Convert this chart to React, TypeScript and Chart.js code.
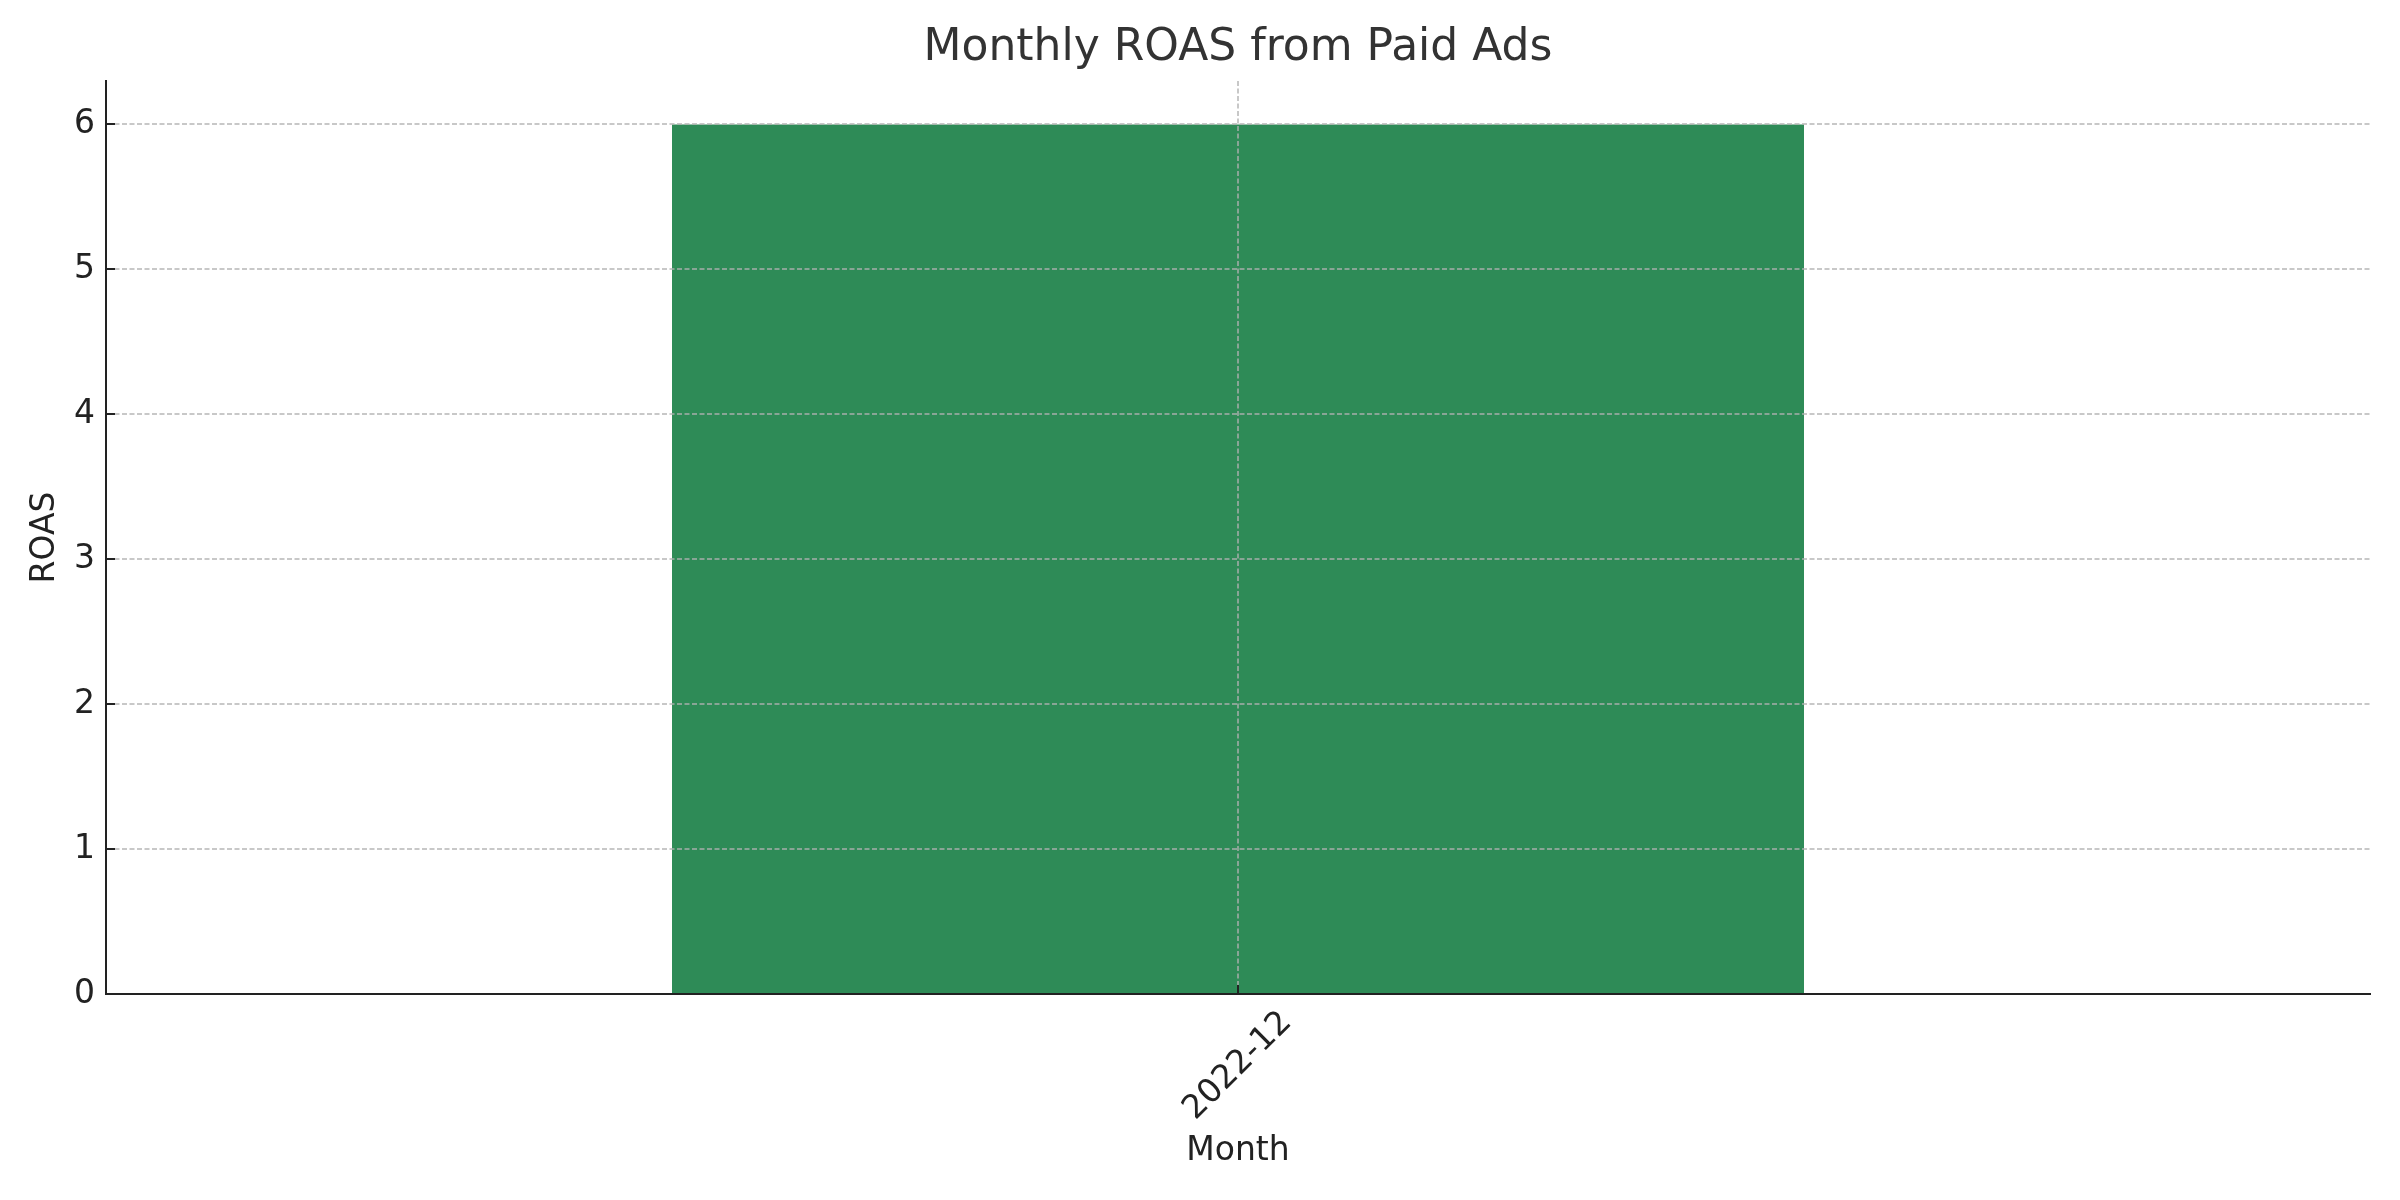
import React, { useEffect, useRef } from "react";
import { Chart, registerables } from "chart.js";

Chart.register(...registerables);

const categories: string[] = ["2022-12"];
const roasValues: number[] = [6.0];
const yTickValues: number[] = [0, 1, 2, 3, 4, 5, 6];
const chartTitle = "Monthly ROAS from Paid Ads";

const FONT = "'DejaVu Sans', 'Liberation Sans', sans-serif";

const innerTicksAndLabels = {
  id: "innerTicksAndLabels",
  afterDraw(chart: any) {
    const { ctx, chartArea } = chart;
    const xs = chart.scales.x;
    const ys = chart.scales.y;
    ctx.save();
    // title centered over the plot area
    ctx.font = `44px ${FONT}`;
    ctx.fillStyle = "#333333";
    ctx.textAlign = "center";
    ctx.textBaseline = "middle";
    ctx.fillText(chartTitle, (chartArea.left + chartArea.right) / 2, 49);

    ctx.strokeStyle = "#222222";
    ctx.lineWidth = 2;
    ctx.setLineDash([]);
    // inward y ticks
    ys.ticks.forEach((_t: any, i: number) => {
      const y = Math.round(ys.getPixelForTick(i));
      ctx.beginPath();
      ctx.moveTo(chartArea.left, y);
      ctx.lineTo(chartArea.left + 9, y);
      ctx.stroke();
    });
    // inward x ticks + rotated centered labels
    xs.ticks.forEach((_t: any, i: number) => {
      const x = Math.round(xs.getPixelForTick(i));
      ctx.beginPath();
      ctx.moveTo(x, chartArea.bottom);
      ctx.lineTo(x, chartArea.bottom - 9);
      ctx.stroke();
      ctx.save();
      ctx.translate(x, chartArea.bottom + 72);
      ctx.rotate(-Math.PI / 4);
      ctx.font = `33px ${FONT}`;
      ctx.fillStyle = "#222222";
      ctx.textAlign = "center";
      ctx.textBaseline = "middle";
      ctx.fillText(String(xs.getLabelForValue(xs.ticks[i].value)), 0, 0);
      ctx.restore();
    });
    ctx.restore();
  },
};

export default function App() {
  const canvasRef = useRef<HTMLCanvasElement | null>(null);

  useEffect(() => {
    if (!canvasRef.current) return;
    const grid = {
      color: "rgba(176,176,176,0.7)",
      lineWidth: 2,
      drawTicks: false,
      z: 1,
    };
    const border = { display: true, color: "#222222", width: 2, dash: [5, 2.5], z: 2 };
    const chart = new Chart(canvasRef.current, {
      type: "bar",
      data: {
        labels: categories,
        datasets: [
          {
            label: "ROAS",
            data: roasValues,
            backgroundColor: "#2E8B57",
            borderWidth: 0,
            barPercentage: 0.5,
            categoryPercentage: 1.0,
          },
        ],
      },
      options: {
        responsive: false,
        animation: false,
        devicePixelRatio: 1,
        layout: { padding: { left: 0, right: 30, top: 81, bottom: 0 } },
        plugins: {
          legend: { display: false },
          tooltip: { enabled: false },
          title: { display: false },
        },
        scales: {
          x: {
            type: "category",
            offset: true,
            grid: { ...grid, offset: false },
            border: { ...border },
            ticks: { display: false },
            title: {
              display: true,
              text: "Month",
              color: "#222222",
              font: { family: FONT, size: 33, lineHeight: 1.2 },
              padding: { top: 0, bottom: 29 },
            },
            afterFit: (s: any) => {
              s.height = 206;
            },
          },
          y: {
            type: "linear",
            min: 0,
            max: 6.3,
            grid: { ...grid },
            border: { ...border },
            ticks: {
              stepSize: 1,
              includeBounds: false,
              padding: 11,
              color: "#222222",
              font: { family: FONT, size: 33 },
              callback: (v: any) => (yTickValues.includes(Number(v)) ? String(v) : ""),
            },
            title: {
              display: true,
              text: "ROAS",
              color: "#222222",
              font: { family: FONT, size: 33, lineHeight: 1.2 },
              padding: { top: 26, bottom: 0 },
            },
            afterFit: (s: any) => {
              s.width = 106;
            },
          },
        },
      } as any,
      plugins: [innerTicksAndLabels],
    });
    return () => chart.destroy();
  }, []);

  return (
    <div style={{ position: "fixed", left: 0, top: 0, width: 2400, height: 1200, background: "#ffffff" }}>
      <canvas ref={canvasRef} width={2400} height={1200} />
    </div>
  );
}
